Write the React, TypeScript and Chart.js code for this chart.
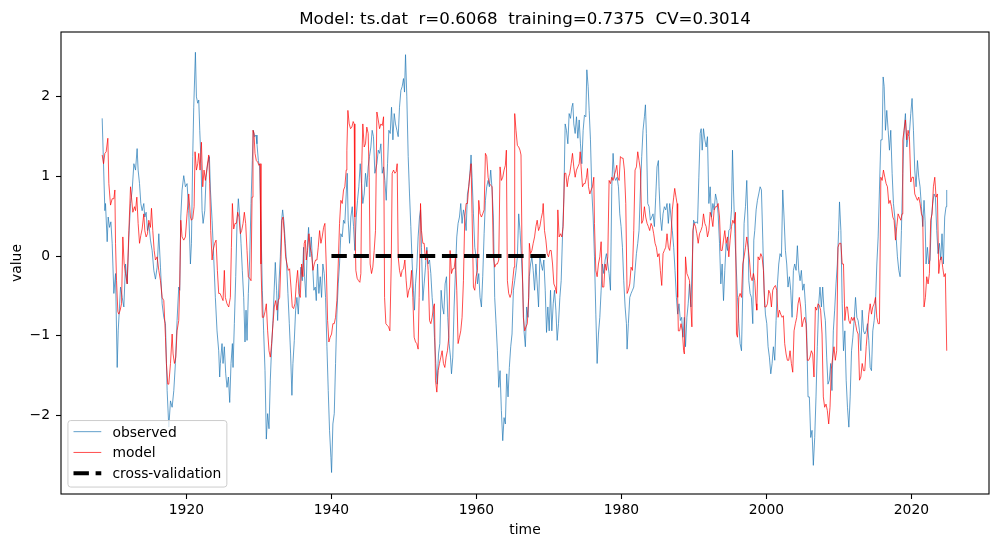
import React, { useEffect, useRef } from "react";
import { Chart, registerables } from "chart.js";

Chart.register(...registerables);

const TITLE = "Model: ts.dat  r=0.6068  training=0.7375  CV=0.3014";
const X_LABEL = "time";
const Y_LABEL = "value";
const X_TICKS = [1920, 1940, 1960, 1980, 2000, 2020];
const Y_TICKS = [-2, -1, 0, 1, 2];
const SERIES_LABELS = ["observed", "model", "cross-validation"];

// [time (year), value]
const observed: [number, number][] = [
  [1908.38,1.73],[1908.75,0.57],[1908.84,0.66],[1909.07,0.18],[1909.21,0.49],[1909.39,0.36],[1909.58,0.43],[1909.76,0.16],[1909.99,-0.47],[1910.22,-0.22],
  [1910.45,-1.40],[1910.59,-0.94],[1910.77,-0.64],[1910.91,-0.39],[1911.14,-0.52],[1911.37,-0.64],[1911.60,-0.10],[1911.83,-0.35],[1912.06,0.24],[1912.29,0.66],
  [1912.52,0.83],[1912.75,1.16],[1912.98,1.08],[1913.20,1.35],[1913.34,1.08],[1913.53,0.91],[1913.71,0.66],[1913.89,0.57],[1914.12,0.66],[1914.26,0.49],
  [1914.44,0.55],[1914.63,0.32],[1914.81,0.41],[1915.04,0.20],[1915.27,0.07],[1915.50,-0.18],[1915.73,-0.29],[1915.96,-0.14],[1916.19,0.28],[1916.42,-0.14],
  [1916.65,-0.60],[1916.88,-0.77],[1917.11,-0.85],[1917.34,-1.69],[1917.57,-2.15],[1917.80,-1.82],[1918.03,-1.90],[1918.26,-1.69],[1918.48,-1.35],[1918.71,-0.81],
  [1918.94,-0.39],[1919.08,-0.43],[1919.22,0.49],[1919.40,0.83],[1919.63,1.01],[1919.86,0.87],[1920.09,0.91],[1920.32,0.57],[1920.55,-0.10],[1920.69,0.16],
  [1920.87,1.25],[1921.01,1.87],[1921.24,2.56],[1921.38,2.00],[1921.56,1.92],[1921.70,1.96],[1921.84,1.58],[1922.02,1.16],[1922.16,0.57],[1922.30,0.41],
  [1922.53,0.57],[1922.71,0.99],[1922.94,1.16],[1923.17,1.25],[1923.31,0.83],[1923.54,0.45],[1923.76,-0.01],[1923.99,-0.52],[1924.22,-0.94],[1924.45,-1.19],
  [1924.59,-1.52],[1924.68,-1.35],[1924.91,-1.10],[1925.05,-1.35],[1925.23,-1.14],[1925.42,-1.48],[1925.60,-1.65],[1925.79,-1.52],[1925.97,-1.84],[1926.15,-1.35],
  [1926.34,-1.10],[1926.43,-1.40],[1926.61,-0.85],[1926.80,-0.26],[1926.98,0.41],[1927.16,0.72],[1927.35,0.49],[1927.53,0.16],[1927.71,-0.18],[1927.90,-0.52],
  [1928.08,-1.08],[1928.22,-0.68],[1928.36,-1.06],[1928.54,-0.47],[1928.72,-0.05],[1928.91,0.66],[1929.09,1.20],[1929.23,1.58],[1929.41,1.50],[1929.60,1.52],
  [1929.73,1.41],[1929.92,1.20],[1930.10,1.12],[1930.28,0.41],[1930.47,-0.43],[1930.65,-0.94],[1930.84,-1.44],[1931.02,-2.30],[1931.20,-1.98],[1931.39,-2.17],
  [1931.57,-1.56],[1931.75,-1.14],[1931.94,-0.81],[1932.12,-0.39],[1932.26,-0.08],[1932.44,-0.43],[1932.58,-0.81],[1932.76,-0.35],[1932.95,-0.01],[1933.13,0.45],
  [1933.27,0.58],[1933.45,0.43],[1933.64,0.16],[1933.82,-0.10],[1934.00,-0.47],[1934.19,-0.85],[1934.37,-1.23],[1934.55,-1.75],[1934.69,-1.35],[1934.88,-1.06],
  [1935.06,-0.68],[1935.24,-0.52],[1935.43,-0.73],[1935.61,-0.39],[1935.79,-0.14],[1935.98,-0.31],[1936.16,0.11],[1936.30,-0.26],[1936.48,-0.52],[1936.67,0.11],
  [1936.85,0.36],[1937.03,-0.01],[1937.22,0.24],[1937.40,-0.10],[1937.58,-0.43],[1937.77,-0.39],[1937.91,-0.56],[1938.09,-0.10],[1938.27,-0.47],[1938.46,-0.26],
  [1938.64,-0.52],[1938.82,-0.10],[1939.01,-0.22],[1939.19,-0.52],[1939.38,-1.14],[1939.56,-1.69],[1939.74,-2.19],[1939.93,-2.53],[1940.02,-2.72],[1940.20,-2.11],
  [1940.39,-1.98],[1940.57,-1.35],[1940.75,-0.73],[1940.94,-0.35],[1941.12,-0.10],[1941.30,0.28],[1941.49,0.24],[1941.67,0.45],[1941.85,0.41],[1942.04,0.78],
  [1942.18,1.04],[1942.31,0.45],[1942.50,0.16],[1942.68,0.49],[1942.87,0.62],[1943.05,0.37],[1943.23,0.07],[1943.42,0.49],[1943.60,0.70],[1943.78,0.87],
  [1943.97,1.16],[1944.15,0.91],[1944.33,0.66],[1944.52,0.78],[1944.70,1.04],[1944.88,0.87],[1945.07,1.12],[1945.25,1.25],[1945.44,1.37],[1945.62,1.58],
  [1945.80,1.50],[1945.99,1.04],[1946.27,1.16],[1946.46,1.33],[1946.64,1.29],[1946.82,1.41],[1947.01,1.04],[1947.19,1.12],[1947.37,0.95],[1947.56,0.70],
  [1947.74,1.16],[1947.92,1.58],[1948.11,1.54],[1948.29,1.87],[1948.48,1.46],[1948.66,1.79],[1948.84,1.66],[1949.03,1.58],[1949.21,1.50],[1949.39,1.87],
  [1949.58,2.08],[1949.76,2.13],[1949.94,2.23],[1950.08,2.06],[1950.22,2.53],[1950.40,2.00],[1950.59,1.25],[1950.77,0.78],[1950.95,0.37],[1951.14,-0.10],
  [1951.32,-0.43],[1951.46,-0.68],[1951.60,-0.35],[1951.78,-0.14],[1951.96,0.24],[1952.15,0.49],[1952.29,0.58],[1952.42,0.11],[1952.61,-0.56],[1952.79,-0.35],
  [1952.97,-0.14],[1953.16,0.11],[1953.34,-0.10],[1953.53,-0.05],[1953.71,-0.22],[1953.89,-0.52],[1954.08,-0.73],[1954.21,-1.02],[1954.40,-1.35],[1954.58,-1.61],
  [1954.77,-1.23],[1954.95,-1.10],[1955.13,-0.43],[1955.32,-0.64],[1955.50,-0.73],[1955.68,-0.35],[1955.87,-0.26],[1956.05,-0.77],[1956.23,-1.10],[1956.42,-1.27],
  [1956.56,-1.48],[1956.74,-1.27],[1956.92,-0.64],[1957.11,-0.18],[1957.29,0.24],[1957.47,0.41],[1957.66,0.49],[1957.84,0.66],[1958.02,0.41],[1958.21,0.58],
  [1958.39,0.49],[1958.58,0.32],[1958.76,0.78],[1958.94,0.87],[1959.13,1.08],[1959.26,1.27],[1959.40,0.99],[1959.59,0.53],[1959.77,0.11],[1959.95,-0.01],
  [1960.14,-0.35],[1960.32,-0.22],[1960.50,-0.52],[1960.69,-0.64],[1960.87,-0.26],[1961.06,0.28],[1961.24,0.70],[1961.42,0.87],[1961.61,0.95],[1961.79,0.87],
  [1961.97,1.08],[1962.16,0.83],[1962.34,0.49],[1962.52,-0.52],[1962.71,-0.85],[1962.89,-1.19],[1963.08,-1.65],[1963.26,-1.44],[1963.44,-1.94],[1963.63,-2.32],
  [1963.81,-2.03],[1963.99,-2.11],[1964.18,-1.48],[1964.36,-1.77],[1964.54,-1.40],[1964.73,-1.14],[1964.91,-0.98],[1965.10,-0.43],[1965.28,-0.31],[1965.46,-0.18],
  [1965.65,-0.01],[1965.83,0.53],[1966.01,0.32],[1966.20,-0.01],[1966.38,-0.35],[1966.56,-0.94],[1966.75,-1.14],[1966.93,-0.64],[1967.12,-0.77],[1967.30,-0.26],
  [1967.47,-0.10],[1967.65,-0.01],[1967.83,-0.18],[1968.02,-0.43],[1968.20,-0.10],[1968.38,-0.35],[1968.57,-0.64],[1968.75,-0.01],[1968.93,-0.10],[1969.12,-0.18],
  [1969.30,-0.05],[1969.49,-0.43],[1969.67,-0.96],[1969.85,-0.64],[1970.04,-0.94],[1970.22,-0.43],[1970.40,-0.94],[1970.59,-0.60],[1970.77,-0.43],[1970.96,-0.68],
  [1971.14,-1.06],[1971.32,-0.85],[1971.51,-0.52],[1971.69,-0.31],[1971.87,0.24],[1972.06,0.74],[1972.24,1.66],[1972.42,1.58],[1972.61,1.41],[1972.79,1.79],
  [1972.98,1.73],[1973.16,1.87],[1973.30,1.92],[1973.43,1.66],[1973.62,1.54],[1973.80,1.75],[1973.99,1.48],[1974.17,1.71],[1974.35,1.41],[1974.54,1.16],
  [1974.72,1.58],[1974.90,1.77],[1975.09,1.75],[1975.23,2.34],[1975.41,2.13],[1975.55,1.83],[1975.73,1.46],[1975.91,0.83],[1976.10,0.49],[1976.28,-0.01],
  [1976.47,-0.73],[1976.65,-1.35],[1976.83,-0.98],[1977.02,-0.77],[1977.20,-0.43],[1977.38,-0.10],[1977.57,-0.22],[1977.75,-0.05],[1977.93,0.03],[1978.12,-0.10],
  [1978.30,-0.22],[1978.49,-0.43],[1978.67,0.87],[1978.85,1.29],[1979.04,0.99],[1979.22,0.95],[1979.40,0.99],[1979.59,0.87],[1979.77,0.53],[1979.95,0.37],
  [1980.14,0.11],[1980.32,-0.31],[1980.51,-0.64],[1980.69,-0.85],[1980.78,-1.17],[1980.96,-0.85],[1981.15,-0.52],[1981.33,-0.47],[1981.52,-0.43],[1981.70,-0.39],
  [1981.88,-0.18],[1982.07,0.03],[1982.25,0.16],[1982.43,0.32],[1982.62,0.83],[1982.80,1.25],[1982.98,1.58],[1983.17,1.75],[1983.31,1.90],[1983.44,1.54],
  [1983.63,0.66],[1983.81,0.62],[1983.99,0.45],[1984.18,0.49],[1984.36,0.53],[1984.55,0.37],[1984.73,0.74],[1984.91,1.12],[1985.10,1.20],[1985.19,0.87],
  [1985.37,0.49],[1985.56,0.32],[1985.74,0.53],[1985.92,0.62],[1986.11,0.58],[1986.29,0.66],[1986.47,0.41],[1986.66,0.66],[1986.84,0.49],[1987.02,0.32],
  [1987.21,0.11],[1987.39,-0.18],[1987.58,-0.52],[1987.76,-0.73],[1987.94,-0.60],[1988.13,-0.81],[1988.31,-0.77],[1988.49,-1.02],[1988.68,-0.77],[1988.84,-1.14],
  [1989.03,-0.77],[1989.21,-0.60],[1989.39,-0.35],[1989.58,-0.64],[1989.76,-0.10],[1989.95,0.45],[1990.13,0.41],[1990.31,0.43],[1990.50,0.41],[1990.68,0.99],
  [1990.86,1.54],[1991.00,1.60],[1991.14,1.33],[1991.32,1.60],[1991.51,1.46],[1991.69,1.37],[1991.87,1.50],[1992.06,0.66],[1992.24,0.87],[1992.42,0.49],
  [1992.61,0.66],[1992.79,0.58],[1992.98,0.78],[1993.16,0.70],[1993.34,0.53],[1993.53,0.16],[1993.71,-0.35],[1993.89,-0.10],[1994.08,-0.56],[1994.26,-0.18],
  [1994.44,0.16],[1994.63,0.07],[1994.81,0.32],[1994.99,0.34],[1995.18,0.58],[1995.32,1.33],[1995.46,0.83],[1995.64,0.28],[1995.82,-0.10],[1996.01,-0.52],
  [1996.19,-0.85],[1996.37,-1.10],[1996.56,-1.19],[1996.74,-0.43],[1996.92,0.41],[1997.11,0.62],[1997.29,0.95],[1997.43,0.49],[1997.57,-0.31],[1997.75,-0.47],
  [1997.93,-0.52],[1998.12,-0.85],[1998.26,0.20],[1998.39,0.32],[1998.58,0.58],[1998.76,0.70],[1998.94,0.78],[1999.13,0.87],[1999.31,0.83],[1999.50,0.20],
  [1999.68,-0.43],[1999.86,-0.73],[2000.05,-0.85],[2000.23,-1.14],[2000.41,-1.27],[2000.60,-1.48],[2000.78,-1.35],[2000.96,-1.14],[2001.15,-1.31],[2001.33,-0.81],
  [2001.52,-0.35],[2001.70,-0.10],[2001.88,0.03],[2002.07,-0.01],[2002.25,0.83],[2002.43,0.49],[2002.62,0.07],[2002.80,-0.10],[2002.98,-0.39],[2003.17,-0.26],
  [2003.35,-0.43],[2003.54,-0.77],[2003.72,-0.18],[2003.90,-0.10],[2004.09,-0.18],[2004.27,0.13],[2004.45,-0.18],[2004.64,-0.31],[2004.82,-0.18],[2005.00,-0.43],
  [2005.19,-0.35],[2005.37,-0.60],[2005.55,-0.94],[2005.74,-1.77],[2005.92,-1.77],[2006.11,-2.28],[2006.29,-2.19],[2006.47,-2.63],[2006.66,-2.28],[2006.84,-1.77],
  [2007.02,-1.14],[2007.21,-0.60],[2007.39,-0.39],[2007.58,-0.64],[2007.76,-0.39],[2007.94,-0.68],[2008.13,-0.81],[2008.31,-1.27],[2008.49,-1.61],[2008.68,-1.56],
  [2008.86,-1.35],[2009.04,-1.69],[2009.23,-0.94],[2009.41,-0.68],[2009.60,-0.35],[2009.78,-0.10],[2009.96,0.32],[2010.08,0.68],[2010.27,0.32],[2010.45,-0.60],
  [2010.63,-1.19],[2010.82,-0.94],[2011.00,-1.56],[2011.18,-1.90],[2011.37,-2.15],[2011.55,-1.77],[2011.74,-1.19],[2011.92,-1.02],[2012.10,-0.81],[2012.29,-0.52],
  [2012.47,-0.77],[2012.65,-0.81],[2012.84,-0.94],[2013.02,-1.19],[2013.21,-0.68],[2013.39,-0.94],[2013.57,-0.98],[2013.76,-0.94],[2013.94,-0.85],[2014.12,-1.06],
  [2014.31,-1.40],[2014.49,-1.44],[2014.67,-0.94],[2014.86,-0.81],[2015.04,-0.60],[2015.23,-0.10],[2015.41,0.24],[2015.59,0.83],[2015.78,1.46],[2015.96,1.46],
  [2016.10,2.25],[2016.24,2.13],[2016.42,1.58],[2016.60,1.83],[2016.79,1.58],[2016.97,1.33],[2017.15,1.58],[2017.34,1.04],[2017.52,0.66],[2017.70,0.49],
  [2017.89,0.24],[2018.07,-0.01],[2018.26,-0.18],[2018.44,-0.26],[2018.62,0.32],[2018.81,1.04],[2018.99,1.58],[2019.17,1.79],[2019.36,1.37],[2019.54,1.50],
  [2019.72,1.54],[2019.91,1.79],[2020.09,1.98],[2020.28,1.58],[2020.46,1.08],[2020.64,0.87],[2020.83,1.20],[2021.01,0.99],[2021.19,0.87],[2021.38,0.62],
  [2021.56,0.37],[2021.74,0.70],[2021.88,0.45],[2022.02,-0.10],[2022.20,0.11],[2022.39,-0.10],[2022.57,-0.05],[2022.76,0.49],[2022.94,0.66],[2023.12,0.78],
  [2023.31,0.74],[2023.49,0.32],[2023.67,0.03],[2023.86,0.16],[2024.04,-0.05],[2024.22,0.28],[2024.41,-0.10],[2024.59,0.49],[2024.77,0.62],[2024.87,0.83],
];

const model: [number, number][] = [
  [1908.38,1.27],[1908.57,1.16],[1908.75,1.29],[1908.93,1.31],[1909.16,1.48],[1909.30,0.91],[1909.53,0.64],[1909.76,0.72],[1909.99,0.72],[1910.13,0.83],
  [1910.22,0.16],[1910.36,-0.31],[1910.54,-0.70],[1910.68,-0.73],[1910.86,-0.68],[1911.05,-0.60],[1911.23,0.24],[1911.41,-0.10],[1911.60,-0.22],[1911.83,-0.35],
  [1912.06,0.32],[1912.29,0.87],[1912.42,0.74],[1912.61,0.55],[1912.84,0.62],[1912.98,0.57],[1913.16,0.74],[1913.34,0.41],[1913.53,0.16],[1913.71,0.26],
  [1913.89,0.34],[1914.12,0.53],[1914.26,0.32],[1914.44,0.24],[1914.63,0.28],[1914.81,0.45],[1915.04,0.36],[1915.18,0.60],[1915.36,0.32],[1915.55,0.07],
  [1915.73,-0.05],[1915.96,-0.01],[1916.19,-0.18],[1916.42,-0.31],[1916.65,-0.52],[1916.88,-0.56],[1917.11,-1.02],[1917.24,-1.35],[1917.43,-1.61],[1917.57,-1.61],
  [1917.80,-1.35],[1918.03,-0.98],[1918.16,-1.23],[1918.35,-1.35],[1918.53,-1.27],[1918.71,-0.94],[1918.94,-0.81],[1919.08,-0.35],[1919.22,0.45],[1919.40,0.24],
  [1919.63,0.20],[1919.86,0.24],[1920.09,0.53],[1920.32,0.78],[1920.55,0.49],[1920.69,0.45],[1920.87,0.47],[1921.06,0.62],[1921.19,1.31],[1921.38,1.08],
  [1921.56,1.16],[1921.70,1.29],[1921.88,1.08],[1922.07,1.43],[1922.25,0.87],[1922.43,1.08],[1922.62,0.95],[1922.85,1.12],[1923.08,1.27],[1923.21,0.91],
  [1923.35,0.32],[1923.54,-0.05],[1923.67,0.07],[1923.90,0.16],[1924.09,0.20],[1924.27,-0.18],[1924.45,-0.47],[1924.64,-0.47],[1924.87,-0.52],[1925.05,-0.56],
  [1925.23,-0.18],[1925.37,-0.52],[1925.60,-0.60],[1925.83,-0.64],[1926.06,-0.52],[1926.20,0.11],[1926.34,0.66],[1926.52,0.34],[1926.70,0.41],[1926.89,0.41],
  [1927.07,0.55],[1927.25,0.49],[1927.44,0.28],[1927.62,0.32],[1927.81,0.41],[1927.99,0.55],[1928.17,0.41],[1928.36,0.07],[1928.54,-0.26],[1928.72,-0.28],
  [1928.91,-0.31],[1929.05,0.74],[1929.18,1.58],[1929.32,1.54],[1929.46,1.29],[1929.64,1.20],[1929.83,1.18],[1930.01,1.14],[1930.15,1.16],[1930.28,-0.10],
  [1930.47,-0.77],[1930.65,-0.77],[1930.84,-0.70],[1931.02,-0.60],[1931.20,-0.94],[1931.39,-1.19],[1931.57,-1.27],[1931.75,-1.10],[1931.94,-0.85],[1932.12,-0.64],
  [1932.30,-0.56],[1932.49,-0.68],[1932.67,-0.56],[1932.86,-0.52],[1933.04,-0.05],[1933.18,0.45],[1933.32,0.49],[1933.50,0.28],[1933.68,-0.01],[1933.87,-0.10],
  [1934.05,-0.18],[1934.23,-0.16],[1934.42,-0.39],[1934.60,-0.64],[1934.78,-0.66],[1934.97,-0.60],[1935.15,-0.35],[1935.34,-0.18],[1935.52,-0.47],[1935.70,-0.52],
  [1935.89,-0.10],[1936.07,-0.26],[1936.25,0.16],[1936.39,0.20],[1936.53,-0.05],[1936.71,0.07],[1936.90,0.28],[1937.08,0.11],[1937.26,0.03],[1937.45,-0.18],
  [1937.63,-0.10],[1937.81,-0.05],[1938.00,-0.05],[1938.18,0.11],[1938.37,0.32],[1938.55,0.16],[1938.73,0.24],[1938.92,0.36],[1939.10,0.41],[1939.28,-0.10],
  [1939.47,-0.81],[1939.65,-1.08],[1939.83,-1.02],[1940.02,-0.98],[1940.20,-0.85],[1940.39,-0.85],[1940.57,-0.77],[1940.75,-0.56],[1940.94,-0.10],[1941.12,0.41],
  [1941.30,0.70],[1941.49,0.66],[1941.67,0.83],[1941.85,0.87],[1942.04,1.08],[1942.13,1.33],[1942.27,1.83],[1942.45,1.66],[1942.64,1.60],[1942.82,1.62],
  [1943.00,1.69],[1943.14,1.66],[1943.23,0.49],[1943.37,-0.18],[1943.55,-0.28],[1943.74,-0.31],[1943.92,-0.33],[1944.06,-0.22],[1944.20,1.20],[1944.33,1.66],
  [1944.52,1.37],[1944.70,1.41],[1944.88,1.62],[1945.07,1.54],[1945.21,0.99],[1945.34,-0.10],[1945.53,-0.22],[1945.71,-0.14],[1945.90,0.07],[1946.08,0.32],
  [1946.27,1.81],[1946.46,1.71],[1946.64,1.60],[1946.82,1.66],[1947.01,1.64],[1947.19,1.75],[1947.33,-0.52],[1947.51,-0.85],[1947.69,-0.87],[1947.88,-0.89],
  [1948.06,-0.94],[1948.25,-0.10],[1948.38,1.04],[1948.57,1.08],[1948.75,1.04],[1948.93,1.06],[1949.07,1.16],[1949.21,-0.01],[1949.39,-0.18],[1949.58,-0.26],
  [1949.76,-0.18],[1949.94,-0.16],[1950.13,-0.05],[1950.31,-0.31],[1950.50,-0.52],[1950.68,-0.43],[1950.86,-0.39],[1951.05,-0.18],[1951.23,-0.52],[1951.41,-1.02],
  [1951.60,-1.08],[1951.78,-1.10],[1951.96,-1.17],[1952.10,-0.52],[1952.29,0.66],[1952.42,0.32],[1952.61,0.16],[1952.79,0.16],[1952.97,-0.05],[1953.16,0.07],
  [1953.34,-0.18],[1953.53,-0.81],[1953.71,-0.85],[1953.89,-0.77],[1954.08,-0.64],[1954.21,-0.60],[1954.35,-1.56],[1954.54,-1.71],[1954.72,-1.44],[1954.90,-1.35],
  [1955.09,-1.27],[1955.27,-1.19],[1955.45,-1.35],[1955.64,-1.40],[1955.82,-1.27],[1956.00,-1.19],[1956.19,-1.02],[1956.37,0.07],[1956.56,-0.22],[1956.74,-0.16],
  [1956.92,-0.16],[1957.11,-0.01],[1957.29,-0.43],[1957.47,-1.10],[1957.66,-1.02],[1957.84,-0.94],[1958.02,-0.77],[1958.21,-0.31],[1958.39,0.49],[1958.58,0.66],
  [1958.76,0.66],[1958.94,0.87],[1959.13,1.04],[1959.26,1.16],[1959.40,0.53],[1959.59,-0.39],[1959.77,-0.43],[1959.95,-0.26],[1960.14,-0.18],[1960.32,0.70],
  [1960.50,0.53],[1960.69,0.49],[1960.87,0.53],[1961.06,0.58],[1961.24,1.29],[1961.42,1.25],[1961.61,0.99],[1961.79,0.91],[1961.97,0.89],[1962.16,0.87],
  [1962.34,-0.01],[1962.52,-0.14],[1962.71,-0.10],[1962.89,-0.10],[1963.08,-0.05],[1963.26,1.12],[1963.44,0.95],[1963.63,0.99],[1963.81,1.08],[1963.99,1.14],
  [1964.13,1.33],[1964.27,-0.31],[1964.45,-0.47],[1964.64,-0.52],[1964.82,-0.47],[1965.00,-0.31],[1965.19,-0.14],[1965.28,1.79],[1965.46,1.58],[1965.65,1.39],
  [1965.83,1.37],[1966.01,1.33],[1966.15,1.27],[1966.29,0.07],[1966.47,-0.77],[1966.66,-0.94],[1966.84,-0.89],[1967.02,-0.85],[1967.21,-0.52],[1967.30,0.16],
  [1967.47,0.03],[1967.65,0.07],[1967.83,0.16],[1968.02,0.24],[1968.20,0.37],[1968.38,0.45],[1968.57,0.32],[1968.75,0.37],[1968.93,0.47],[1969.12,0.55],
  [1969.21,0.66],[1969.39,0.32],[1969.58,0.20],[1969.76,0.03],[1969.94,-0.01],[1970.13,0.07],[1970.31,0.07],[1970.50,-0.10],[1970.68,-0.35],[1970.86,-0.39],
  [1971.05,-0.47],[1971.23,0.58],[1971.41,0.24],[1971.60,0.28],[1971.78,0.24],[1971.96,0.37],[1972.15,1.04],[1972.33,1.04],[1972.52,0.87],[1972.70,0.99],
  [1972.88,1.04],[1973.07,1.16],[1973.25,1.29],[1973.43,1.12],[1973.62,0.99],[1973.80,1.08],[1973.99,1.12],[1974.17,1.16],[1974.31,1.31],[1974.44,1.12],
  [1974.63,0.87],[1974.81,0.91],[1974.99,0.91],[1975.18,0.99],[1975.32,1.10],[1975.46,0.87],[1975.64,0.78],[1975.82,0.83],[1976.01,0.87],[1976.19,0.99],
  [1976.28,0.41],[1976.47,-0.18],[1976.65,-0.26],[1976.83,-0.10],[1977.02,-0.01],[1977.20,0.18],[1977.38,-0.39],[1977.57,-0.39],[1977.75,-0.10],[1977.93,-0.18],
  [1978.12,-0.01],[1978.30,0.95],[1978.49,0.91],[1978.67,0.99],[1978.85,0.95],[1979.04,1.02],[1979.22,1.08],[1979.36,1.14],[1979.50,0.99],[1979.68,0.95],
  [1979.86,1.25],[1980.05,1.23],[1980.23,1.23],[1980.41,1.08],[1980.60,0.66],[1980.78,-0.47],[1980.96,-0.43],[1981.15,-0.35],[1981.33,-0.14],[1981.52,-0.18],
  [1981.70,0.32],[1981.88,1.08],[1982.07,1.12],[1982.25,1.31],[1982.43,1.20],[1982.62,1.08],[1982.80,0.41],[1982.98,0.45],[1983.17,0.62],[1983.35,0.49],
  [1983.54,0.41],[1983.72,0.37],[1983.90,0.32],[1984.09,0.41],[1984.27,0.37],[1984.45,0.28],[1984.64,0.16],[1984.82,0.11],[1985.00,-0.01],[1985.19,0.03],
  [1985.37,-0.18],[1985.56,-0.37],[1985.74,0.03],[1985.92,0.07],[1986.11,0.11],[1986.29,0.28],[1986.47,0.11],[1986.66,0.07],[1986.84,0.24],[1987.02,0.58],
  [1987.21,0.74],[1987.35,0.85],[1987.53,0.74],[1987.67,0.66],[1987.76,-0.52],[1987.85,-0.94],[1988.03,-0.94],[1988.22,-0.85],[1988.40,-0.94],[1988.58,-1.19],
  [1988.68,-1.23],[1988.84,-0.01],[1989.03,-0.22],[1989.21,-0.26],[1989.39,-0.31],[1989.58,-0.64],[1989.72,-0.89],[1989.85,0.32],[1990.04,0.41],[1990.22,0.37],
  [1990.40,0.28],[1990.59,0.16],[1990.77,0.28],[1990.96,0.32],[1991.14,0.37],[1991.32,0.53],[1991.51,0.41],[1991.69,0.37],[1991.87,0.24],[1992.06,0.32],
  [1992.24,0.55],[1992.42,0.49],[1992.61,0.37],[1992.79,0.58],[1992.98,0.62],[1993.16,0.62],[1993.34,0.66],[1993.53,0.49],[1993.71,0.07],[1993.89,0.07],
  [1994.08,0.20],[1994.26,0.32],[1994.44,0.16],[1994.63,0.24],[1994.81,-0.01],[1994.99,0.20],[1995.18,0.37],[1995.36,0.45],[1995.55,0.41],[1995.73,0.55],
  [1995.87,-0.98],[1996.01,-1.02],[1996.19,-0.52],[1996.37,-0.47],[1996.56,-0.52],[1996.74,-0.10],[1996.92,-0.01],[1997.11,0.11],[1997.29,0.24],[1997.47,0.11],
  [1997.66,-0.05],[1997.84,-0.26],[1998.03,-0.31],[1998.21,-0.22],[1998.39,-0.31],[1998.58,-0.60],[1998.67,-0.68],[1998.85,-0.01],[1999.04,-0.05],[1999.22,0.03],
  [1999.40,-0.01],[1999.59,-0.18],[1999.77,-0.64],[1999.95,-0.64],[2000.14,-0.60],[2000.32,-0.43],[2000.50,-0.47],[2000.69,-0.64],[2000.87,-0.43],[2001.06,-0.39],
  [2001.24,-0.37],[2001.42,-0.43],[2001.61,-0.77],[2001.79,-0.68],[2001.97,-0.73],[2002.16,-0.77],[2002.34,-0.75],[2002.52,-1.10],[2002.71,-1.23],[2002.89,-1.31],
  [2003.08,-1.31],[2003.26,-1.19],[2003.44,-1.35],[2003.63,-1.46],[2003.81,-0.94],[2003.99,-0.85],[2004.18,-0.77],[2004.36,-0.60],[2004.54,-0.52],[2004.73,-0.64],
  [2004.91,-0.89],[2005.10,-0.81],[2005.28,-0.77],[2005.46,-0.85],[2005.65,-1.31],[2005.83,-1.31],[2006.01,-1.27],[2006.20,-1.19],[2006.38,-1.23],[2006.56,-1.52],
  [2006.75,-0.64],[2006.93,-0.68],[2007.12,-0.60],[2007.30,-0.62],[2007.48,-0.68],[2007.67,-0.98],[2007.85,-1.77],[2008.03,-1.90],[2008.22,-1.86],[2008.40,-1.94],
  [2008.59,-2.11],[2008.77,-1.90],[2008.95,-1.42],[2009.14,-1.27],[2009.32,-1.14],[2009.50,-1.31],[2009.69,-1.19],[2009.87,0.11],[2010.06,0.16],[2010.27,0.16],
  [2010.45,-0.10],[2010.63,-0.10],[2010.82,-0.81],[2011.00,-0.64],[2011.18,-0.64],[2011.37,-0.81],[2011.55,-0.85],[2011.74,-0.77],[2011.92,-0.81],[2012.10,-0.77],
  [2012.29,-0.85],[2012.47,-0.94],[2012.65,-0.98],[2012.84,-1.56],[2013.02,-1.52],[2013.21,-1.35],[2013.39,-1.44],[2013.57,-1.44],[2013.76,-1.14],[2013.94,-0.94],
  [2014.12,-0.73],[2014.31,-0.60],[2014.49,-0.73],[2014.67,-0.64],[2014.86,-0.60],[2015.04,-0.52],[2015.23,-0.77],[2015.41,-0.85],[2015.59,-0.85],[2015.78,0.99],
  [2015.96,0.95],[2016.14,1.08],[2016.33,0.99],[2016.51,0.91],[2016.69,0.87],[2016.88,0.66],[2017.06,0.70],[2017.25,0.62],[2017.43,0.49],[2017.61,0.45],
  [2017.80,0.20],[2017.98,0.37],[2018.16,0.53],[2018.35,0.49],[2018.53,0.45],[2018.71,0.53],[2018.81,1.46],[2018.99,1.58],[2019.17,1.71],[2019.36,1.46],
  [2019.54,1.58],[2019.72,1.50],[2019.91,0.93],[2020.09,0.99],[2020.28,0.99],[2020.46,0.78],[2020.64,0.74],[2020.83,0.70],[2021.01,0.74],[2021.19,0.66],
  [2021.38,0.53],[2021.56,0.49],[2021.74,-0.64],[2021.93,-0.52],[2022.11,-0.26],[2022.30,-0.35],[2022.48,-0.22],[2022.66,0.45],[2022.85,0.53],[2023.03,0.87],
  [2023.22,0.99],[2023.40,0.74],[2023.58,0.78],[2023.77,-0.22],[2023.95,-0.05],[2024.14,-0.01],[2024.31,-0.14],[2024.50,-0.26],[2024.68,-0.22],[2024.87,-1.19],
];

const crossValidation: [number, number][] = [[1940, 0], [1970, 0]];

const X_MIN = 1902.7;
const X_MAX = 2030.7;
const Y_MIN = -2.99;
const Y_MAX = 2.815;

const FONT = '"DejaVu Sans", "Liberation Sans", sans-serif';
const FS = 13.89;

const decorPlugin = {
  id: "decor",
  afterDraw(chart: any) {
    const { ctx, chartArea: a } = chart;
    ctx.save();
    // axes frame
    ctx.strokeStyle = "#000";
    ctx.lineWidth = 1.1;
    ctx.strokeRect(a.left, a.top, a.right - a.left, a.bottom - a.top);

    ctx.fillStyle = "#000";
    ctx.textAlign = "center";
    ctx.textBaseline = "alphabetic";
    const cx = (a.left + a.right) / 2;
    ctx.font = `16.67px ${FONT}`;
    ctx.fillText(TITLE, cx, a.top - 8);
    ctx.font = `${FS}px ${FONT}`;
    ctx.fillText(X_LABEL, cx, a.bottom + 40);
    ctx.save();
    ctx.translate(a.left - 40, (a.top + a.bottom) / 2);
    ctx.rotate(-Math.PI / 2);
    ctx.fillText(Y_LABEL, 0, 0);
    ctx.restore();

    // legend (lower left, matplotlib style)
    const pad = 0.4 * FS, lsp = 0.5 * FS, hl = 2 * FS, htp = 0.8 * FS, rowH = 0.996 * FS;
    ctx.font = `${FS}px ${FONT}`;
    const maxW = Math.max(...SERIES_LABELS.map((s) => ctx.measureText(s).width));
    const left = a.left + 0.5 * FS;
    const bottom = a.bottom - 0.5 * FS;
    const w = pad + hl + htp + maxW + pad;
    const h = 2 * pad + 3 * rowH + 2 * lsp;
    const top = bottom - h;
    ctx.beginPath();
    (ctx as any).roundRect(left, top, w, h, 2.8);
    ctx.fillStyle = "rgba(255,255,255,0.8)";
    ctx.fill();
    ctx.strokeStyle = "#cccccc";
    ctx.lineWidth = 1;
    ctx.stroke();
    const styles = [
      { color: "#1f77b4", width: 0.7, dash: [] as number[] },
      { color: "#ff0000", width: 0.7, dash: [] as number[] },
      { color: "#000000", width: 4.17, dash: [15.4, 6.7] },
    ];
    SERIES_LABELS.forEach((label, i) => {
      const base = top + pad + i * (rowH + lsp) + 0.76 * FS;
      const hy = base - 5;
      const st = styles[i];
      ctx.beginPath();
      ctx.setLineDash(st.dash);
      ctx.lineCap = "butt";
      ctx.strokeStyle = st.color;
      ctx.lineWidth = st.width;
      ctx.moveTo(left + pad, hy);
      ctx.lineTo(left + pad + hl, hy);
      ctx.stroke();
      ctx.setLineDash([]);
      ctx.fillStyle = "#000";
      ctx.textAlign = "left";
      ctx.fillText(label, left + pad + hl + htp, base);
    });
    ctx.restore();
  },
};

export default function App() {
  const ref = useRef<HTMLCanvasElement | null>(null);
  useEffect(() => {
    document.body.style.margin = "0";
    const canvas = ref.current;
    if (!canvas) return;
    const toXY = (arr: [number, number][]) => arr.map(([x, y]) => ({ x, y }));
    const chart = new Chart(canvas, {
      type: "line",
      data: {
        datasets: [
          {
            label: SERIES_LABELS[0],
            data: toXY(observed),
            borderColor: "#1f77b4",
            borderWidth: 0.7,
            pointRadius: 0,
            tension: 0,
            order: 2,
          },
          {
            label: SERIES_LABELS[1],
            data: toXY(model),
            borderColor: "#ff0000",
            borderWidth: 0.7,
            pointRadius: 0,
            tension: 0,
            order: 1,
          },
          {
            label: SERIES_LABELS[2],
            data: toXY(crossValidation),
            borderColor: "#000000",
            borderWidth: 4.17,
            borderDash: [15.4, 6.7],
            borderCapStyle: "butt",
            pointRadius: 0,
            tension: 0,
            order: 0,
          },
        ],
      } as any,
      options: {
        responsive: false,
        animation: false,
        events: [],
        layout: { padding: { top: 32, right: 10, left: 0, bottom: 0 } },
        plugins: { legend: { display: false }, tooltip: { enabled: false }, title: { display: false } },
        scales: {
          x: {
            type: "linear",
            min: X_MIN,
            max: X_MAX,
            afterBuildTicks: (s: any) => {
              s.ticks = X_TICKS.map((v) => ({ value: v }));
            },
            afterFit: (s: any) => {
              s.height = 53;
            },
            grid: { display: true, drawOnChartArea: false, drawTicks: true, tickLength: 5, tickWidth: 1.1, tickColor: "#000" },
            border: { display: false },
            ticks: {
              color: "#000",
              font: { family: FONT, size: FS },
              padding: 3,
              maxRotation: 0,
              autoSkip: false,
              callback: (v: any) => String(v),
            },
          },
          y: {
            type: "linear",
            min: Y_MIN,
            max: Y_MAX,
            afterBuildTicks: (s: any) => {
              s.ticks = Y_TICKS.map((v) => ({ value: v }));
            },
            afterFit: (s: any) => {
              s.width = 61;
            },
            grid: { display: true, drawOnChartArea: false, drawTicks: true, tickLength: 5, tickWidth: 1.1, tickColor: "#000" },
            border: { display: false },
            ticks: {
              color: "#000",
              font: { family: FONT, size: FS },
              padding: 6,
              autoSkip: false,
              callback: (v: any) => (v < 0 ? "\u2212" + Math.abs(v) : String(v)),
            },
          },
        },
      } as any,
      plugins: [decorPlugin],
    });
    return () => chart.destroy();
  }, []);
  return (
    <div style={{ width: 999, height: 547, background: "#fff" }}>
      <canvas ref={ref} width={999} height={547} style={{ display: "block", width: 999, height: 547 }} />
    </div>
  );
}
